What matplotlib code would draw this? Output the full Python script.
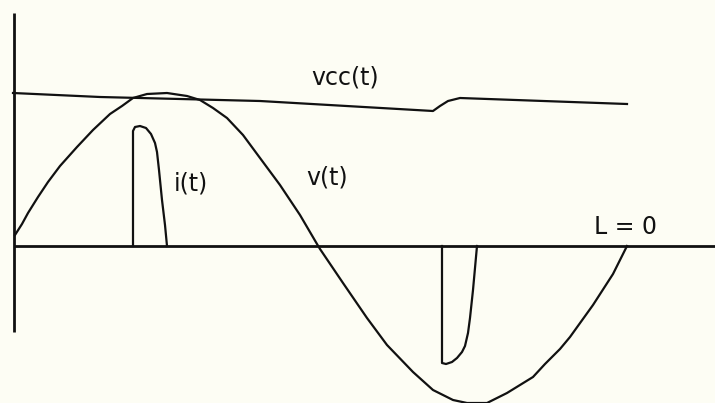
import matplotlib.pyplot as plt

# values (x in pixels along t, y relative to the zero line)
v_t = [15, 22, 28, 38, 48, 60, 77, 93, 110, 122, 133, 147, 167, 187, 200, 213,
       227, 243, 260, 280, 300, 317, 320, 343, 367, 387, 413, 433, 453, 467,
       487, 507, 533, 545, 560, 570, 593, 613, 627]
v_val = [11, 22, 33, 49, 64, 80, 99, 116, 132, 140, 148, 152, 153, 150, 146, 138,
         128, 111, 88, 61, 31, 2, -3, -37, -72, -99, -126, -144, -154, -157,
         -157, -147, -131, -118, -103, -91, -59, -28, 0]

vcc_t = [13, 100, 260, 433, 440, 448, 460, 627]
vcc_val = [153, 149, 145, 135, 140, 145, 148, 142]

i1_t = [133, 133, 135, 140, 146, 151, 155, 157, 159, 162, 165, 167]
i1_val = [0, 115, 119, 120, 118, 112, 103, 94, 76, 46, 21, 0]

i2_t = [442, 442, 446, 452, 457, 462, 465, 468, 470, 473, 475, 477]
i2_val = [0, -117, -118, -116, -112, -106, -100, -87, -72, -44, -22, 0]

bg = '#fdfdf4'
ink = '#111111'

fig = plt.figure(figsize=(7.15, 4.03), dpi=100, facecolor=bg)
ax = fig.add_axes([0, 0, 1, 1])
ax.set_facecolor(bg)
ax.set_xlim(0, 715)
ax.set_ylim(-157, 246)
ax.axis('off')

# hand-drawn axes
ax.plot([14, 14], [233, -86], color=ink, lw=2.0, solid_capstyle='butt')
ax.plot([14, 715], [0, 0], color=ink, lw=2.0, solid_capstyle='butt')

ax.plot(v_t, v_val, color=ink, lw=1.6, solid_joinstyle='round')
ax.plot(vcc_t, vcc_val, color=ink, lw=1.6, solid_joinstyle='round')
ax.plot(i1_t, i1_val, color=ink, lw=1.6, solid_joinstyle='round')
ax.plot(i2_t, i2_val, color=ink, lw=1.6, solid_joinstyle='round')

font = dict(fontsize=17, color=ink, ha='center', va='center', family='DejaVu Sans')
ax.text(345, 169, 'vcc(t)', **font)
ax.text(191, 63, 'i(t)', **font)
ax.text(327, 68, 'v(t)', **font)
ax.text(626, 19, 'L = 0', **font)

fig.savefig('out.png', dpi=100, facecolor=bg)
